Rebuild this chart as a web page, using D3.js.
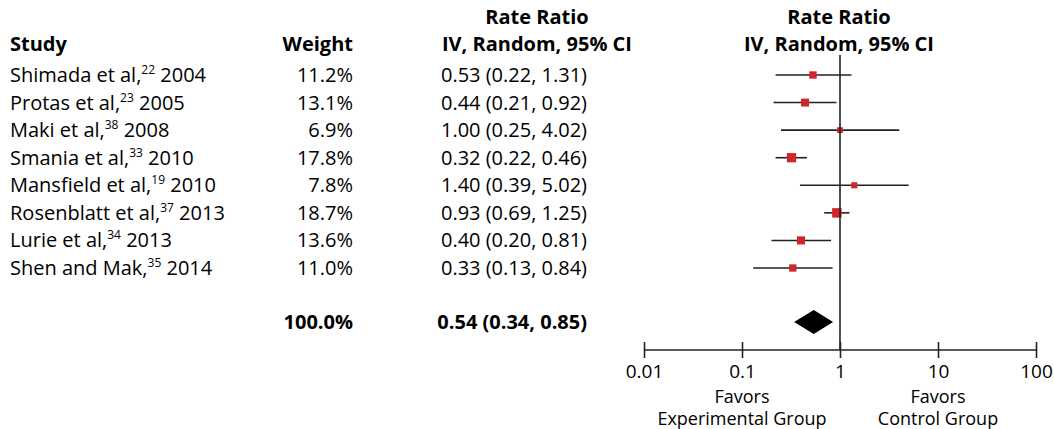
<!DOCTYPE html>
<html><head><meta charset="utf-8">
<script src="https://cdn.jsdelivr.net/npm/d3@7"></script>
<style>body{margin:0;background:#fff}svg{font-family:"Open Sans",sans-serif}</style>
</head><body><div id="chart"></div>
<script>
var studies = ["Shimada et al,", "Protas et al,", "Maki et al,", "Smania et al,", "Mansfield et al,", "Rosenblatt et al,", "Lurie et al,", "Shen and Mak,"];
var refs = ["22", "23", "38", "33", "19", "37", "34", "35"];
var years = ["2004", "2005", "2008", "2010", "2010", "2013", "2013", "2014"];
var weights = [11.2, 13.1, 6.9, 17.8, 7.8, 18.7, 13.6, 11.0];
var rr = [0.53, 0.44, 1.00, 0.32, 1.40, 0.93, 0.40, 0.33];
var lo = [0.22, 0.21, 0.25, 0.22, 0.39, 0.69, 0.20, 0.13];
var hi = [1.31, 0.92, 4.02, 0.46, 5.02, 1.25, 0.81, 0.84];
var total = {weight: 100.0, rr: 0.54, lo: 0.34, hi: 0.85};
var ticks = [0.01, 0.1, 1, 10, 100];

var W = 1054, H = 429;
var svg = d3.select("#chart").append("svg").attr("width", W).attr("height", H);
var x = d3.scaleLog().domain([0.01, 100]).range([644, 1036]);
var y = d3.scaleLinear().domain([0, 7]).range([75, 268]);
var yTotal = 322, yAxis = 350;
var size = d3.scaleSqrt().domain([0, 18.7]).range([0, 9.5]);
var fmt = d3.format(".2f");
var fs = 20;

function head(t, cx, cy, anchor) {
  svg.append("text").attr("x", cx).attr("y", cy).attr("text-anchor", anchor || "middle")
    .attr("font-size", fs).attr("font-weight", "bold").text(t);
}
head("Rate Ratio", 537, 24);
head("IV, Random, 95% CI", 537, 51);
head("Rate Ratio", 839, 24);
head("IV, Random, 95% CI", 839, 51);
head("Study", 10, 51, "start");
head("Weight", 353, 51, "end");

var rows = svg.append("g").selectAll("g").data(studies).join("g");
rows.each(function(s, i) {
  var g = d3.select(this), yy = y(i) + 7;
  var t = g.append("text").attr("x", 10).attr("y", yy).attr("font-size", fs);
  t.append("tspan").text(s);
  t.append("tspan").attr("font-size", 12).attr("dy", -8).text(refs[i]);
  t.append("tspan").attr("dy", 8).text(" " + years[i]);
  g.append("text").attr("x", 353).attr("y", yy).attr("text-anchor", "end").attr("font-size", fs)
    .text(weights[i].toFixed(1) + "%");
  g.append("text").attr("x", 587).attr("y", yy).attr("text-anchor", "end").attr("font-size", fs)
    .text(fmt(rr[i]) + " (" + fmt(lo[i]) + ", " + fmt(hi[i]) + ")");
  g.append("line").attr("x1", x(lo[i])).attr("x2", x(hi[i])).attr("y1", y(i)).attr("y2", y(i))
    .attr("stroke", "#222").attr("stroke-width", 1.6);
  var sz = size(weights[i]);
  g.append("rect").attr("x", x(rr[i]) - sz / 2).attr("y", y(i) - sz / 2)
    .attr("width", sz).attr("height", sz).attr("fill", "#d0262b");
});

svg.append("text").attr("x", 353).attr("y", yTotal + 7).attr("text-anchor", "end")
  .attr("font-size", fs).attr("font-weight", "bold").text(total.weight.toFixed(1) + "%");
svg.append("text").attr("x", 587).attr("y", yTotal + 7).attr("text-anchor", "end")
  .attr("font-size", fs).attr("font-weight", "bold")
  .text(fmt(total.rr) + " (" + fmt(total.lo) + ", " + fmt(total.hi) + ")");
svg.append("path").attr("fill", "#000")
  .attr("d", "M" + x(total.lo) + "," + yTotal + "L" + x(total.rr) + "," + (yTotal - 12) +
    "L" + x(total.hi) + "," + yTotal + "L" + x(total.rr) + "," + (yTotal + 12) + "Z");

// line of no effect
svg.append("line").attr("x1", x(1)).attr("x2", x(1)).attr("y1", 55).attr("y2", yAxis)
  .attr("stroke", "#222").attr("stroke-width", 1.6);

var axis = d3.axisBottom(x).tickValues(ticks).tickFormat(d3.format("~g")).tickSize(8);
var ag = svg.append("g").attr("transform", "translate(0," + yAxis + ")").call(axis);
ag.select(".domain").attr("stroke", "#222").attr("stroke-width", 1.6).attr("d", "M644,0H1036");
ag.selectAll(".tick line").attr("y1", -8).attr("stroke", "#222").attr("stroke-width", 1.6);
ag.selectAll(".tick text").attr("font-size", 19).attr("font-family", "Open Sans, sans-serif")
  .attr("fill", "#000").attr("y", 28).attr("dy", null);

function foot(t, cx, cy) {
  svg.append("text").attr("x", cx).attr("y", cy).attr("text-anchor", "middle").attr("font-size", 18).text(t);
}
foot("Favors", x(0.1), 403);
foot("Experimental Group", x(0.1), 425);
foot("Favors", x(10), 403);
foot("Control Group", x(10), 425);
</script></body></html>
